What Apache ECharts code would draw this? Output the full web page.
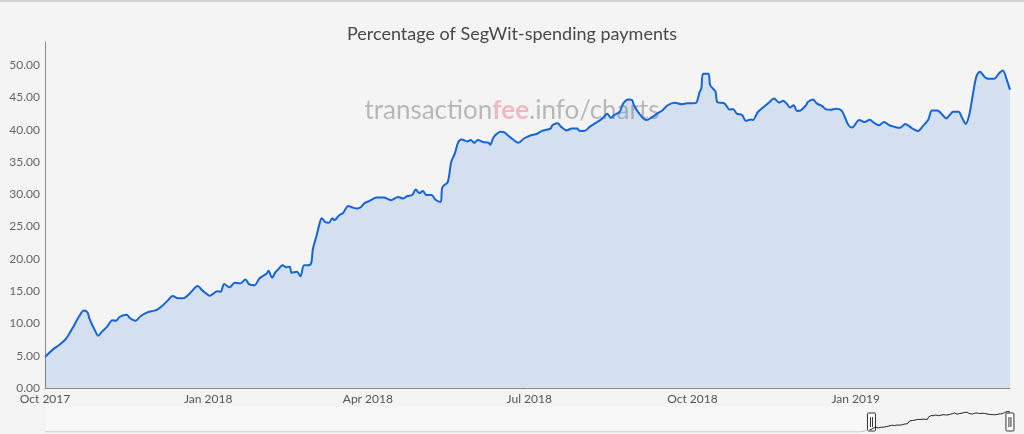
<!DOCTYPE html>
<html>
<head>
<meta charset="utf-8">
<script src="https://cdn.jsdelivr.net/npm/echarts@6/dist/echarts.min.js"></script>
<style>
  html, body { margin: 0; padding: 0; background: #f4f4f4; }
  #chart { width: 1024px; height: 434px; }
</style>
</head>
<body>
<div id="chart"></div>
<script>
// overview starts at the genesis block, segwit spending only from Aug 2017
const dates = [
  '2009-01-03', '2017-08-23', '2017-09-01', '2017-09-10', '2017-09-20',
  '2017-10-01', '2017-10-06', '2017-10-09', '2017-10-13', '2017-10-17', '2017-10-20', '2017-10-23', '2017-10-25', '2017-10-26', '2017-10-29', '2017-10-31',
  '2017-11-02', '2017-11-05', '2017-11-08', '2017-11-10', '2017-11-12', '2017-11-16', '2017-11-18', '2017-11-21', '2017-11-24', '2017-11-28',
  '2017-12-01', '2017-12-03', '2017-12-06', '2017-12-09', '2017-12-12', '2017-12-15', '2017-12-18', '2017-12-22', '2017-12-26', '2017-12-29',
  '2018-01-02', '2018-01-06', '2018-01-08', '2018-01-10', '2018-01-13', '2018-01-16', '2018-01-19', '2018-01-22', '2018-01-24', '2018-01-27', '2018-01-30',
  '2018-02-03', '2018-02-04', '2018-02-06', '2018-02-08', '2018-02-09', '2018-02-12', '2018-02-14', '2018-02-16', '2018-02-17', '2018-02-20', '2018-02-22', '2018-02-24', '2018-02-26', '2018-02-28',
  '2018-03-01', '2018-03-03', '2018-03-05', '2018-03-06', '2018-03-08', '2018-03-10', '2018-03-12', '2018-03-13', '2018-03-16', '2018-03-18', '2018-03-21', '2018-03-23', '2018-03-26', '2018-03-28', '2018-03-30',
  '2018-04-02', '2018-04-06', '2018-04-10', '2018-04-14', '2018-04-18', '2018-04-21', '2018-04-23', '2018-04-26', '2018-04-28', '2018-04-30',
  '2018-05-02', '2018-05-04', '2018-05-07', '2018-05-09', '2018-05-12', '2018-05-13', '2018-05-16', '2018-05-18', '2018-05-20', '2018-05-22', '2018-05-24', '2018-05-27', '2018-05-29', '2018-05-31',
  '2018-06-02', '2018-06-05', '2018-06-08', '2018-06-09', '2018-06-11', '2018-06-15', '2018-06-17', '2018-06-20', '2018-06-25', '2018-06-28',
  '2018-07-02', '2018-07-05', '2018-07-08', '2018-07-13', '2018-07-14', '2018-07-17', '2018-07-19', '2018-07-22', '2018-07-25', '2018-07-28', '2018-07-29',
  '2018-08-01', '2018-08-04', '2018-08-07', '2018-08-10', '2018-08-12', '2018-08-14', '2018-08-16', '2018-08-18', '2018-08-21', '2018-08-23', '2018-08-26', '2018-08-28', '2018-08-29',
  '2018-09-01', '2018-09-05', '2018-09-08', '2018-09-11', '2018-09-14', '2018-09-17', '2018-09-21', '2018-09-25', '2018-09-28',
  '2018-10-01', '2018-10-03', '2018-10-05', '2018-10-06', '2018-10-07', '2018-10-10', '2018-10-11', '2018-10-14', '2018-10-15', '2018-10-19', '2018-10-22', '2018-10-24', '2018-10-26', '2018-10-29', '2018-10-31',
  '2018-11-03', '2018-11-04', '2018-11-07', '2018-11-12', '2018-11-13', '2018-11-16', '2018-11-19', '2018-11-21', '2018-11-23', '2018-11-25', '2018-11-27', '2018-11-29',
  '2018-12-01', '2018-12-04', '2018-12-05', '2018-12-08', '2018-12-10', '2018-12-13', '2018-12-15', '2018-12-18', '2018-12-21', '2018-12-24', '2018-12-26', '2018-12-28', '2018-12-30',
  '2019-01-03', '2019-01-06', '2019-01-09', '2019-01-11', '2019-01-14', '2019-01-17', '2019-01-20', '2019-01-23', '2019-01-26', '2019-01-29', '2019-01-31',
  '2019-02-02', '2019-02-05', '2019-02-08', '2019-02-11', '2019-02-13', '2019-02-16', '2019-02-19', '2019-02-21', '2019-02-23', '2019-02-25', '2019-02-28',
  '2019-03-02', '2019-03-04', '2019-03-06', '2019-03-08', '2019-03-10', '2019-03-12', '2019-03-15', '2019-03-17', '2019-03-20', '2019-03-23', '2019-03-25', '2019-03-27', '2019-03-29'
]
const share = [
  0, 0, 1.0, 2.3, 3.6,
  4.8, 6.1, 6.65, 7.7, 9.5, 11.0, 12.0, 11.7, 10.8, 9.0, 8.1,
  8.7, 9.5, 10.5, 10.4, 11.0, 11.35, 10.8, 10.4, 11.15, 11.75,
  11.95, 12.1, 12.7, 13.5, 14.25, 13.9, 13.9, 14.75, 15.8, 15.05,
  14.3, 15.0, 14.9, 16.1, 15.6, 16.3, 16.2, 16.8, 16.1, 15.9, 17.0,
  17.75, 18.15, 17.1, 18.0, 18.25, 19.0, 18.7, 18.8, 17.85, 18.0, 17.3, 19.0, 19.0, 19.3,
  21.5, 23.5, 25.7, 26.3, 25.7, 25.6, 26.3, 26.0, 26.8, 27.1, 28.2, 28.0, 27.8, 28.0, 28.6,
  29.0, 29.5, 29.5, 29.1, 29.6, 29.35, 29.7, 29.9, 30.75, 30.2,
  30.5, 29.9, 29.9, 29.2, 28.8, 31.1, 31.9, 35.0, 36.3, 38.1, 38.5, 38.2, 38.4, 38.0,
  38.4, 38.1, 38.0, 37.7, 38.9, 39.7, 39.6, 38.9, 38.0, 38.65,
  39.15, 39.35, 39.8, 40.2, 40.7, 41.0, 40.45, 39.9, 40.2, 40.2, 39.9,
  39.8, 40.45, 41.0, 41.5, 42.0, 42.5, 41.85, 42.3, 42.8, 44.1, 44.7, 44.6, 43.8,
  42.5, 41.5, 41.9, 42.5, 43.0, 43.8, 44.2, 43.95, 44.1,
  44.1, 44.15, 45.8, 46.4, 48.7, 48.7, 46.9, 45.9, 44.3, 44.1, 43.15, 43.2, 42.5, 42.3, 41.4,
  41.6, 41.5, 42.8, 43.95, 44.2, 44.85, 44.2, 44.5, 44.1, 43.45, 43.8, 42.9,
  43.0, 43.8, 44.3, 44.7, 44.1, 43.7, 43.2, 43.1, 43.25, 43.0, 41.9, 40.7, 40.35,
  41.5, 41.2, 41.55, 41.15, 40.7, 41.2, 40.7, 40.45, 40.3, 40.9, 40.6,
  40.2, 39.8, 40.6, 41.6, 43.0, 43.0, 42.3, 41.75, 42.3, 42.8, 42.8,
  41.85, 40.9, 42.3, 45.35, 48.2, 49.0, 48.1, 47.9, 47.9, 48.8, 49.2, 47.9, 46.2
]
const yTicks = [0, 5, 10, 15, 20, 25, 30, 35, 40, 45, 50]
const monthNames = ['Jan', 'Feb', 'Mar', 'Apr', 'May', 'Jun', 'Jul', 'Aug', 'Sep', 'Oct', 'Nov', 'Dec']
const windowStart = '2017-09-30 23:59:59'
const windowEnd = '2019-03-29'

const points = dates.map((d, i) => [d, share[i]])
// overview line: grey before the zoom window, dark inside it
const splitAt = dates.indexOf('2017-10-01')
const pointsBefore = points.slice(0, splitAt + 1)
const pointsInside = points.slice(splitAt)
const font = 'Lato, "Open Sans", sans-serif'

const chart = echarts.init(document.getElementById('chart'))
const option = {
  animation: false,
  backgroundColor: '#f4f4f4',
  textStyle: { fontFamily: font },
  title: {
    text: 'Percentage of SegWit-spending payments',
    left: 'center',
    top: 20,
    textStyle: { fontFamily: font, fontSize: 18, fontWeight: 'normal', color: '#484848' }
  },
  grid: [
    { left: 45, right: 14, top: 42, bottom: 46 },
    { left: 45, right: 14, top: 409, height: 23 }
  ],
  xAxis: [{
    type: 'time',
    gridIndex: 0,
    axisLine: { lineStyle: { color: '#8a8a8a' } },
    axisTick: { show: false },
    splitLine: { show: false },
    axisLabel: {
      color: '#555',
      fontSize: 12,
      margin: 5,
      hideOverlap: false,
      formatter: (val) => {
        const d = new Date(val)
        if (d.getDate() !== 1 || d.getHours() !== 0 || d.getMonth() % 3 !== 0) return ''
        return monthNames[d.getMonth()] + ' ' + d.getFullYear()
      }
    }
  }, {
    type: 'time',
    gridIndex: 1,
    min: dates[0],
    max: windowEnd,
    show: false
  }],
  yAxis: [{
    type: 'value',
    gridIndex: 0,
    min: yTicks[0],
    max: 53.6,
    interval: 5,
    axisLine: { show: true, lineStyle: { color: '#8a8a8a' } },
    axisTick: { show: false },
    splitLine: { show: false },
    axisLabel: {
      color: '#666',
      fontSize: 12,
      margin: 5,
      showMaxLabel: false,
      formatter: (v) => v.toFixed(2)
    }
  }, {
    type: 'value',
    gridIndex: 1,
    min: 0,
    max: 53.6,
    show: false
  }],
  dataZoom: [{
    type: 'slider',
    xAxisIndex: 0,
    filterMode: 'filter',
    startValue: windowStart,
    endValue: windowEnd,
    left: 45,
    right: 14,
    top: 407,
    height: 30,
    z: 4,
    showDataShadow: false,
    showDetail: false,
    brushSelect: false,
    moveHandleSize: 0,
    borderColor: 'transparent',
    backgroundColor: 'rgba(255,255,255,0.35)',
    fillerColor: '#f4f4f4',
    handleIcon: 'path://M1,0h6a1,1,0,0,1,1,1v16a1,1,0,0,1-1,1h-6a1,1,0,0,1-1-1v-16a1,1,0,0,1,1-1z M3,4v10 M5,4v10',
    handleSize: '60%',
    handleStyle: { color: '#fff', borderColor: '#333', borderWidth: 1 }
  }],
  graphic: [{
    type: 'rect',
    left: 0,
    top: 0,
    shape: { width: 1024, height: 2 },
    style: { fill: '#d2d2d2' }
  }, {
    type: 'text',
    left: 'center',
    top: 98,
    z: 0,
    style: {
      text: '{a|transaction}{b|fee}{a|.info/charts}',
      rich: {
        a: { fontFamily: font, fontSize: 26, fontWeight: 'normal', fill: 'rgba(0,0,0,0.25)' },
        b: { fontFamily: font, fontSize: 26, fontWeight: 'bold', fill: 'rgba(240,60,90,0.32)' }
      }
    }
  }],
  series: [{
    name: 'SegWit share',
    type: 'line',
    xAxisIndex: 0,
    yAxisIndex: 0,
    data: points,
    showSymbol: false,
    smooth: 0.3,
    z: 2,
    lineStyle: { color: '#1565d8', width: 2 },
    itemStyle: { color: '#1565d8' },
    areaStyle: { color: 'rgba(21,101,216,0.2)' }
  }, {
    name: 'overview before',
    type: 'line',
    xAxisIndex: 1,
    yAxisIndex: 1,
    data: pointsBefore,
    showSymbol: false,
    silent: true,
    z: 6,
    lineStyle: { color: '#bdbdbd', width: 1 }
  }, {
    name: 'overview window',
    type: 'line',
    xAxisIndex: 1,
    yAxisIndex: 1,
    data: pointsInside,
    showSymbol: false,
    silent: true,
    z: 6,
    lineStyle: { color: '#222', width: 1 }
  }]
}
chart.setOption(option)
</script>
</body>
</html>
